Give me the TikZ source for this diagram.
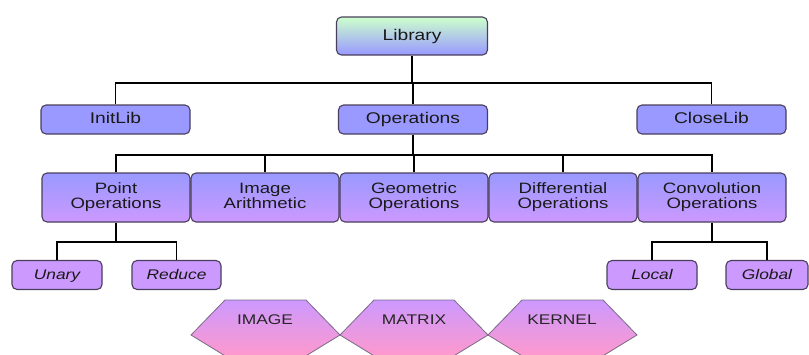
\documentclass[tikz,border=0pt]{standalone}
\usepackage{fontspec}
\setmainfont[FakeStretch=1.24]{Liberation Sans}
\begin{document}
\begin{tikzpicture}[x=1pt,y=-1pt,
  box/.style={draw=boxline,line width=1.1pt,rounded corners=5pt,inner sep=0pt,
    text=black!90,align=center},
  oneline/.style={text height=11pt,text depth=3pt},
  rootbox/.style={box,oneline,minimum width=151pt,minimum height=38pt,
    top color=rootTop,bottom color=rootBot,font=\fontsize{15.5}{15}\selectfont},
  topbox/.style={box,oneline,minimum width=149pt,minimum height=29pt,fill=blueFill,
    font=\fontsize{15.5}{15}\selectfont},
  midbox/.style={box,minimum width=148pt,minimum height=49pt,
    top color=blueFill,bottom color=violetFill,font=\fontsize{15}{15}\selectfont},
  leafbox/.style={box,oneline,minimum height=29pt,fill=violetFill,
    font=\fontsize{14}{14}\itshape},
  hexshape/.style={draw=hexline,line width=0.8pt,top color=violetFill,bottom color=pinkFill},
  hextext/.style={font=\fontsize{14}{14}\selectfont,text=black!85},
  link/.style={draw=black,line width=1.5pt}]
\definecolor{rootTop}{HTML}{CCFFCC}
\definecolor{rootBot}{HTML}{9999FF}
\definecolor{blueFill}{HTML}{9999FF}
\definecolor{violetFill}{HTML}{CC99FF}
\definecolor{pinkFill}{HTML}{FF99CC}
\definecolor{boxline}{HTML}{4A3F5C}
\definecolor{hexline}{HTML}{7A6A88}
\clip (0,0) rectangle (809,354);
\fill[white] (0,0) rectangle (809,354);

% junction levels
\coordinate (j1) at (412,83);
\coordinate (j2) at (413,155);
\coordinate (j3) at (0,242);

% first level
\node[rootbox] (lib) at (412,36) {Library};
\node[topbox] (init) at (115.5,119.5) {InitLib};
\node[topbox] (ops) at (413,119.5) {Operations};
\node[topbox] (close) at (711.5,119.5) {CloseLib};

% operation groups (the phantom keeps every second line on the same baseline)
\node[midbox] (point) at (116,197.5) {Point\\Operations};
\node[midbox] (arith) at (265,197.5) {Image\\Arithmetic\vphantom{p}};
\node[midbox] (geom) at (414,197.5) {Geometric\\Operations};
\node[midbox] (diff) at (563,197.5) {Differential\\Operations};
\node[midbox] (conv) at (712,197.5) {Convolution\\Operations};

% leaves
\node[leafbox,minimum width=90pt] (unary) at (57,275) {Unary};
\node[leafbox,minimum width=89pt] (reduce) at (176.5,275) {Reduce};
\node[leafbox,minimum width=90pt] (local) at (652,275) {Local};
\node[leafbox,minimum width=82pt] (global) at (767,275) {Global};

% connectors
\draw[link] (lib.south) -- (j1);
\draw[link] (init.north) -- (init.north |- j1) -- (close.north |- j1) -- (close.north);
\draw[link] (ops.north) -- (ops.north |- j1);

\draw[link] (ops.south) -- (j2);
\draw[link] (point.north) -- (point.north |- j2) -- (conv.north |- j2) -- (conv.north);
\draw[link] (arith.north) -- (arith.north |- j2);
\draw[link] (geom.north) -- (geom.north |- j2);
\draw[link] (diff.north) -- (diff.north |- j2);

\draw[link] (point.south) -- (point.south |- j3);
\draw[link] (unary.north) -- (unary.north |- j3) -- (reduce.north |- j3) -- (reduce.north);
\draw[link] (conv.south) -- (conv.south |- j3);
\draw[link] (local.north) -- (local.north |- j3) -- (global.north |- j3) -- (global.north);

% data types
\path[hexshape] (191,335) -- (225,300) -- (306,300) -- (340,335) -- (304,357) -- (227,357) -- cycle;
\path[hexshape] (340,335) -- (374,300) -- (454,300) -- (488,335) -- (452,357) -- (376,357) -- cycle;
\path[hexshape] (488,335) -- (522,300) -- (603,300) -- (637,335) -- (601,357) -- (524,357) -- cycle;
\node[hextext] (image) at (265,320) {IMAGE};
\node[hextext] (matrix) at (414,320) {MATRIX};
\node[hextext] (kernel) at (562,320) {KERNEL};
\end{tikzpicture}
\end{document}
